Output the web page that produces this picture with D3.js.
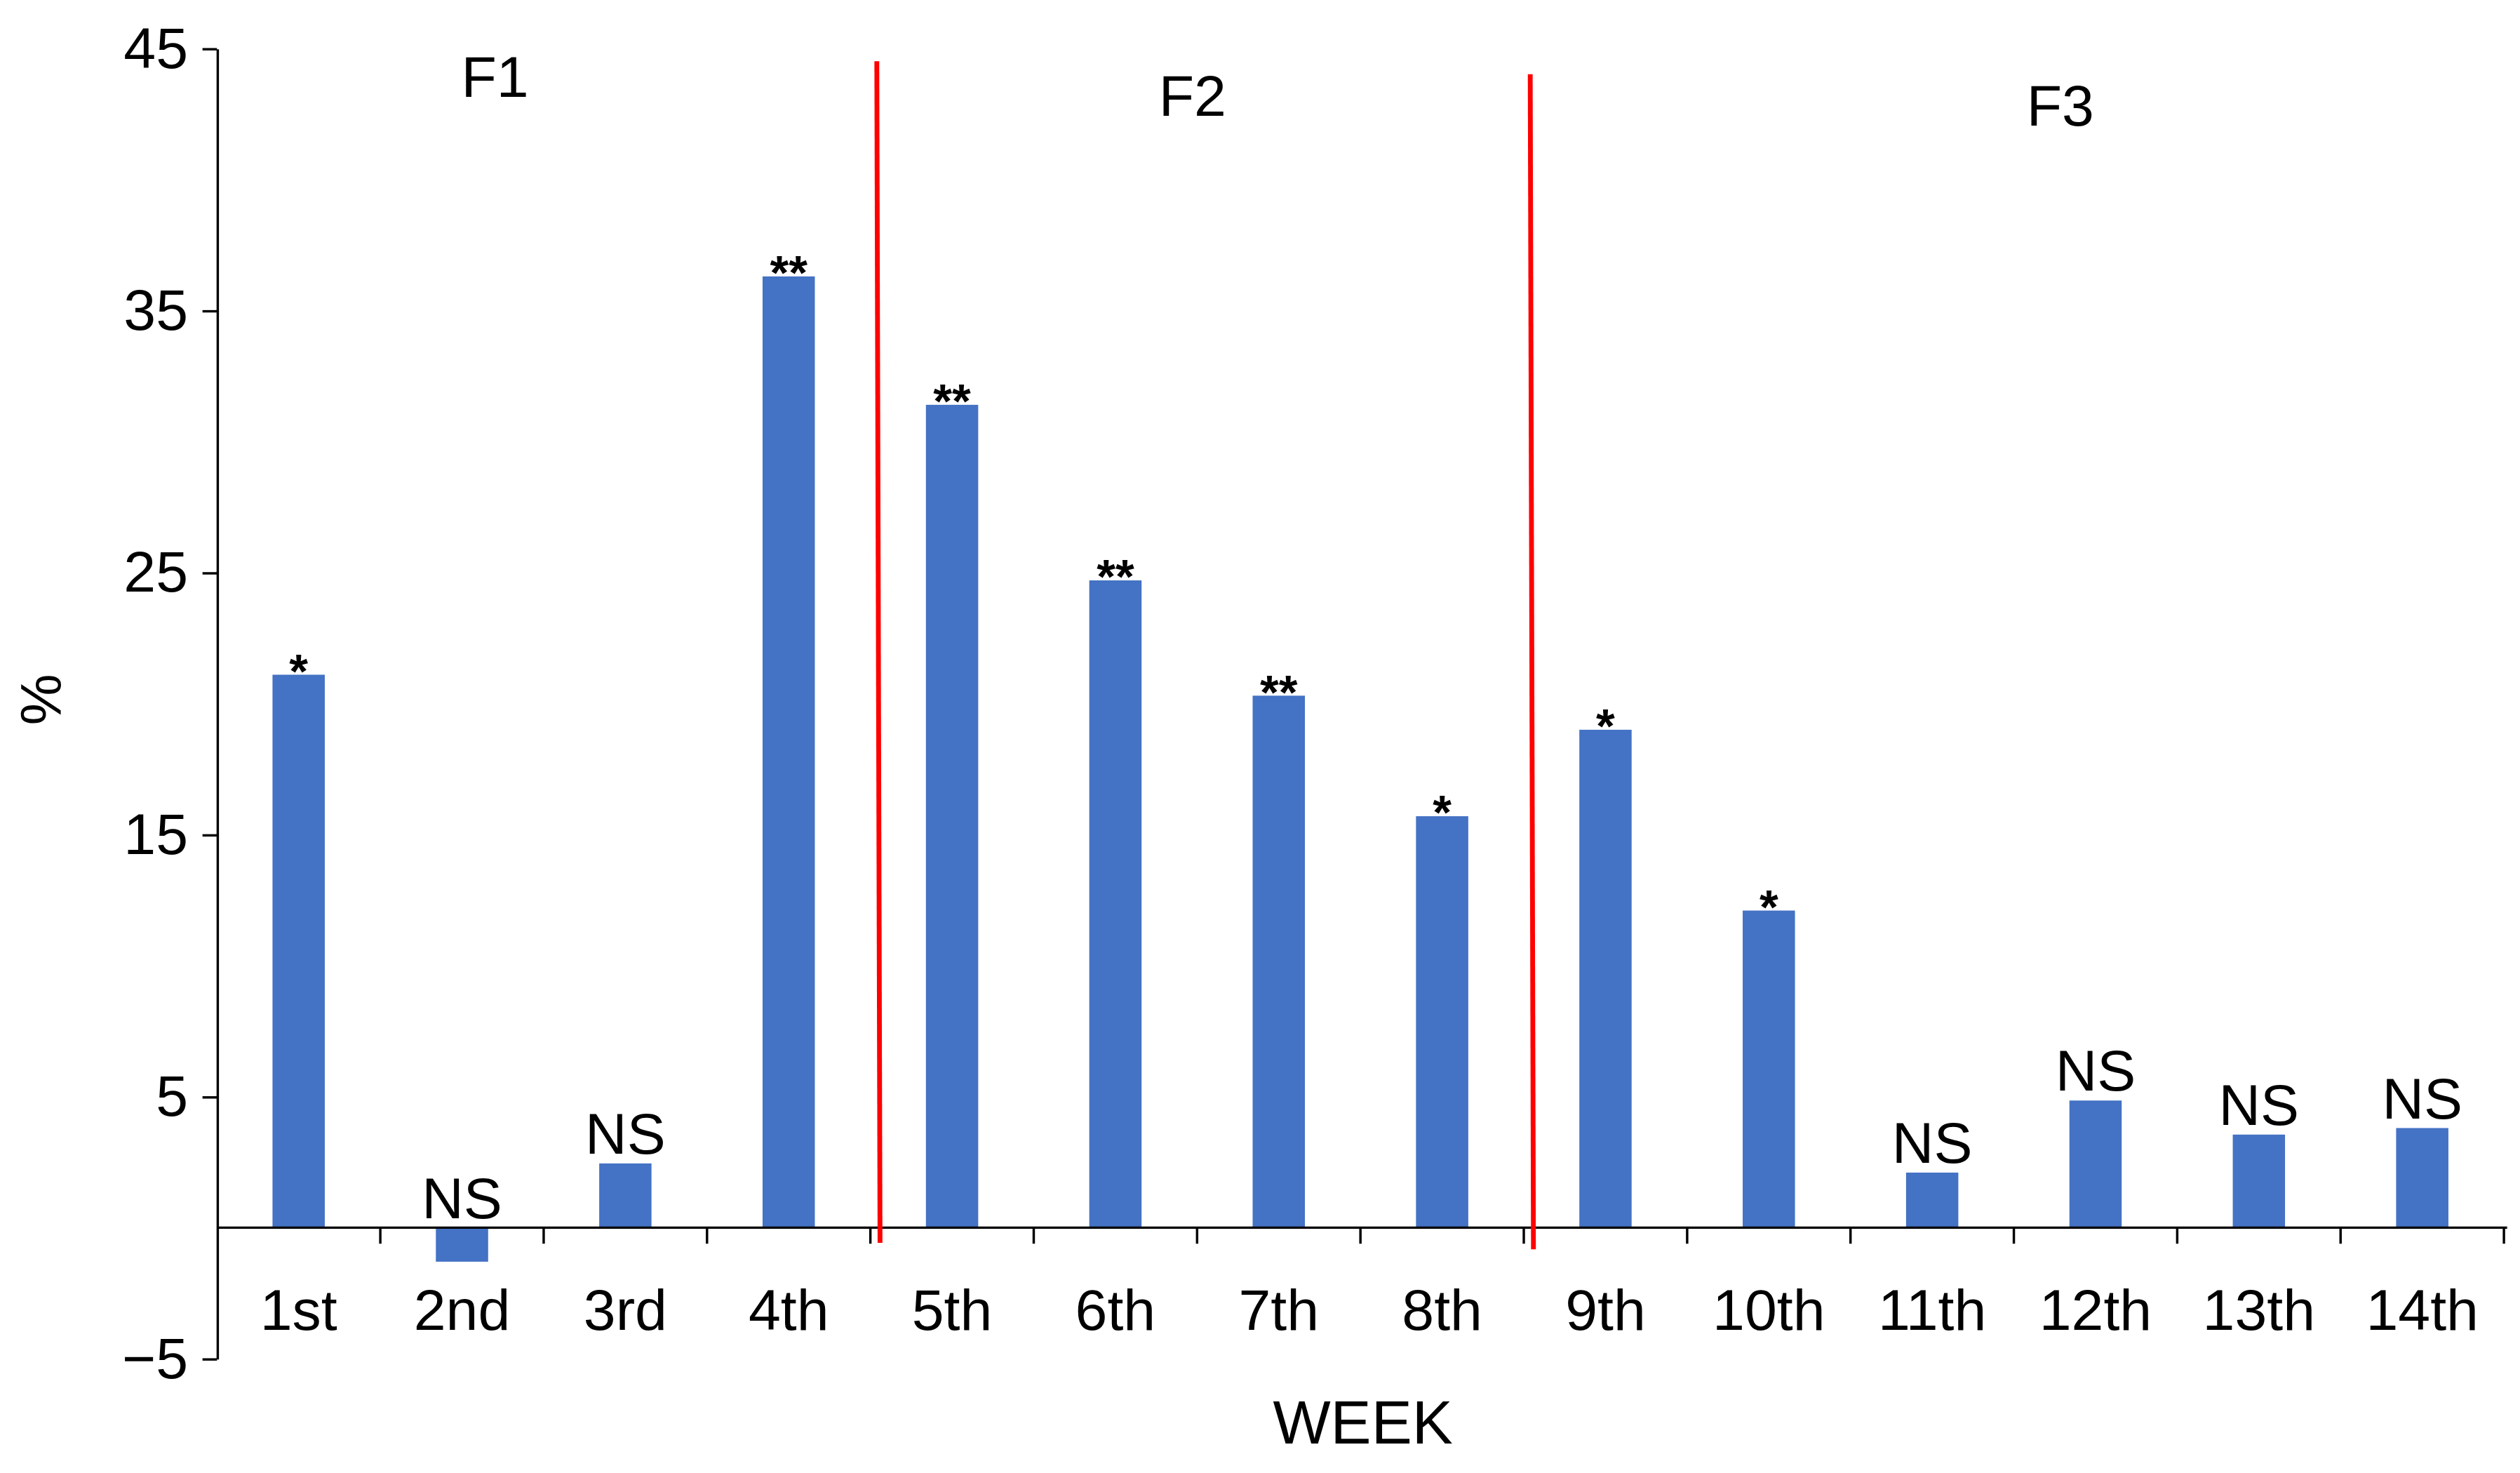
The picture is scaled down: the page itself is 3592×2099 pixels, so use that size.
<!DOCTYPE html>
<html><head><meta charset="utf-8">
<script src="https://cdn.jsdelivr.net/npm/d3@7"></script>
<style>body{margin:0;background:#fff}text{font-family:"Liberation Sans",Arial,sans-serif}</style>
</head><body>
<script>
// data
var weeks = ['1st','2nd','3rd','4th','5th','6th','7th','8th','9th','10th','11th','12th','13th','14th'];
var values = [21.1,-1.3,2.45,36.3,31.4,24.7,20.3,15.7,19.0,12.1,2.1,4.85,3.55,3.8];
var marks = ['*','NS','NS','**','**','**','**','*','*','*','NS','NS','NS','NS'];
var yTicks = [-5,5,15,25,35,45];
var phases = [{name:'F1', x:308, y:48}, {name:'F2', x:742, y:60}, {name:'F3', x:1282, y:66}];

var svg = d3.select('body').append('svg')
	.attr('width', 3592).attr('height', 2099)
	.attr('viewBox', '0 0 1568 916');

var x = d3.scaleBand().domain(weeks).range([135, 1558]).paddingInner(0.68).paddingOuter(0.34);
var xb = d3.scaleBand().domain(weeks).range([135, 1558]);
var y = d3.scaleLinear().domain([-5, 45]).range([845, 30]);

// y axis
var ya = svg.append('g').attr('transform', 'translate(135,0)')
	.call(d3.axisLeft(y).tickValues(yTicks).tickSize(9).tickSizeOuter(0));
ya.select('.domain').attr('stroke', '#000').attr('stroke-width', 1.5);
ya.selectAll('line').attr('stroke', '#000').attr('stroke-width', 1.5);
ya.selectAll('text').attr('font-size', 36).attr('font-family', '"Liberation Sans",Arial,sans-serif').attr('fill', '#000').attr('dx', -6);

// bars
svg.selectAll('rect.bar').data(values).enter().append('rect')
	.attr('class', 'bar')
	.attr('x', function(d, i) {return x(weeks[i]);})
	.attr('width', x.bandwidth())
	.attr('y', function(d) {return y(Math.max(0, d));})
	.attr('height', function(d) {return Math.abs(y(d) - y(0));})
	.attr('fill', '#4472C4');

// x axis at zero
svg.append('line').attr('x1', 135).attr('x2', 1560).attr('y1', y(0)).attr('y2', y(0))
	.attr('stroke', '#000').attr('stroke-width', 1.5);
svg.selectAll('line.xt').data(weeks.slice(1).concat(['end'])).enter().append('line')
	.attr('x1', function(d, i) {return xb(weeks[i]) + xb.bandwidth();})
	.attr('x2', function(d, i) {return xb(weeks[i]) + xb.bandwidth();})
	.attr('y1', y(0)).attr('y2', y(0) + 10)
	.attr('stroke', '#000').attr('stroke-width', 1.5);
svg.selectAll('text.xl').data(weeks).enter().append('text')
	.attr('x', function(d) {return xb(d) + xb.bandwidth() / 2;})
	.attr('y', 827).attr('text-anchor', 'middle').attr('font-size', 36)
	.text(function(d) {return d;});

// significance marks
svg.selectAll('text.sig').data(values).enter().append('text')
	.attr('x', function(d, i) {return xb(weeks[i]) + xb.bandwidth() / 2;})
	.attr('y', function(d, i) {
		var top = y(Math.max(0, d));
		return marks[i] === 'NS' ? top - 6 : top + 8;})
	.attr('text-anchor', 'middle')
	.attr('font-size', function(d, i) {return marks[i] === 'NS' ? 36 : 30;})
	.attr('font-weight', function(d, i) {return marks[i] === 'NS' ? 'normal' : 'bold';})
	.text(function(d, i) {return marks[i];});

// phase separators
var sep = [4, 8];
svg.selectAll('line.sep').data(sep).enter().append('line')
	.attr('x1', function(d) {return xb(weeks[d]) + 4;})
	.attr('x2', function(d) {return xb(weeks[d]) + 6;})
	.attr('y1', function(d, i) {return i ? 46 : 38;})
	.attr('y2', function(d, i) {return i ? 777 : 773;})
	.attr('stroke', '#f00').attr('stroke-width', 3);

svg.selectAll('text.ph').data(phases).enter().append('text')
	.attr('x', function(d) {return d.x;}).attr('y', function(d) {return d.y + 12;})
	.attr('text-anchor', 'middle').attr('font-size', 36)
	.text(function(d) {return d.name;});

svg.append('text').attr('x', 848).attr('y', 898).attr('text-anchor', 'middle')
	.attr('font-size', 38).text('WEEK');
svg.append('text').attr('transform', 'translate(38,435) rotate(-90)')
	.attr('text-anchor', 'middle').attr('font-size', 36).text('%');
</script>
</body></html>
